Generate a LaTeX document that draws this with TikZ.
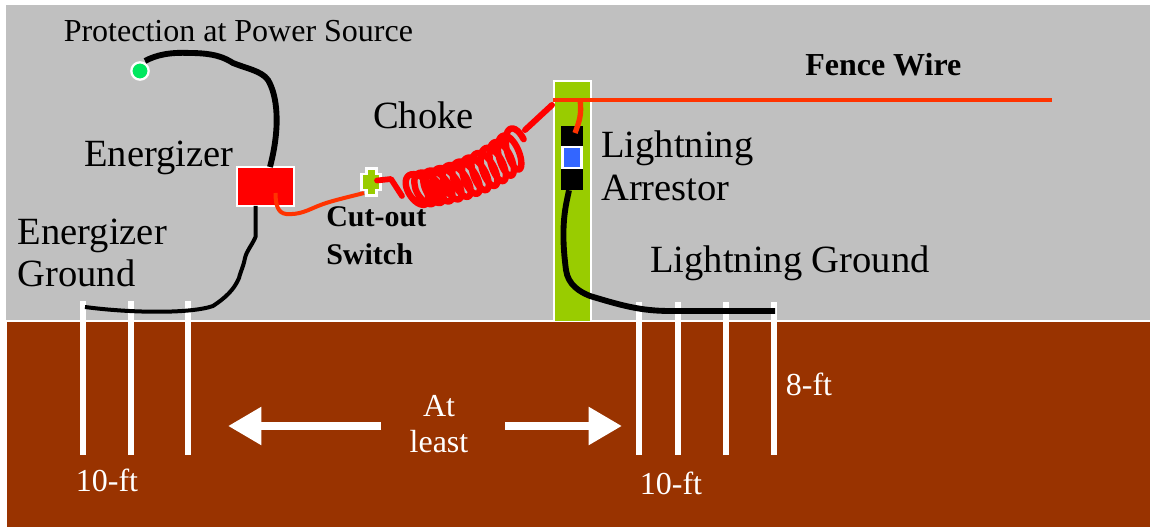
\documentclass[tikz,border=0pt]{standalone}
\usepackage{fontspec}
\setmainfont{Liberation Serif}
\usetikzlibrary{arrows.meta}
\definecolor{skygray}{HTML}{C0C0C0}
\definecolor{soil}{HTML}{993300}
\definecolor{pole}{HTML}{99CC00}
\definecolor{hot}{HTML}{FF3300}
\definecolor{dotgreen}{HTML}{00E85F}
\definecolor{arrestblue}{HTML}{3366FF}
\tikzset{
  x=0.75pt,y=-0.75pt,
  big/.style={font=\fontsize{28.9}{32}\selectfont,inner sep=0pt,align=left,anchor=west,text=black},
  mid/.style={font=\fontsize{24}{29}\selectfont,inner sep=0pt,align=center,text=white},
  lab/.style={font=\fontsize{24}{29}\selectfont\bfseries,inner sep=0pt,align=left,anchor=west,text=black},
  rod/.style={draw=white,line width=4.5pt,line cap=butt},
  blackwire/.style={draw=black,line cap=butt,line join=round},
  hotwire/.style={draw=hot,line width=3pt,line cap=butt,line join=round},
  whitebox/.style={draw=white,line width=1.9pt,inner sep=0pt},
  flow/.style={draw=white,line width=6.2pt,-{Triangle[length=25pt,width=27pt]}},
  coilwire/.style={draw=red,line cap=round,line join=round},
}
\begin{document}
\begin{tikzpicture}
\useasboundingbox (0,0) rectangle (1150,527);
\fill[white] (0,0) rectangle (1150,527);
\fill[skygray] (6,5) rectangle (1150,320);
\fill[soil] (7,322) rectangle (1150,527);
% ground line and pole
\draw[white,line width=1.6pt] (6,321) -- (1150,321);
\fill[pole] (554,81) rectangle (591,321);
\draw[white,line width=2pt] (554,321) -- (554,81) -- (591,81) -- (591,321);
% ground rods
\foreach \n/\xx/\ya in {a/83/301,b/131/301,c/188/301,d/639/302,e/678/302,f/726/302,g/774/302}{
  \coordinate (rod\n top) at (\xx,\ya);
  \coordinate (rod\n bot) at (\xx,455);
  \draw[rod] (rod\n top) -- (rod\n bot);
}
% components
\node[circle,draw=white,line width=1.7pt,fill=dotgreen,minimum size=13pt,inner sep=0pt] (source) at (140,71) {};
\node[whitebox,fill=red,minimum width=43pt,minimum height=29pt] (energizer) at (265.5,186.5) {};
\node[inner sep=0pt,minimum size=0pt] (switch) at (371,182) {};
\fill[white] (360,173) rectangle (382,191);
\fill[white] (364.5,167) rectangle (377.5,197);
\fill[pole] (363,175) rectangle (379,189);
\fill[pole] (367.5,170) rectangle (374.5,194);
\node[fill=black,minimum width=16.5pt,minimum height=18pt,inner sep=0pt] (armtop) at (572,138) {};
\node[fill=black,minimum width=16.5pt,minimum height=18pt,inner sep=0pt] (armbot) at (572,178) {};
\node[whitebox,fill=arrestblue,minimum width=14.5pt,minimum height=15.5pt] (arrest) at (572,157.5) {};
\coordinate (wireend) at (1052,100);
\coordinate (wirestart) at (553,100);
% black wires
\draw[blackwire,line width=4.4pt] (145,61)
  .. controls (156,55) and (170,52) .. (190,53)
  .. controls (215,53) and (225,58) .. (233,63)
  .. controls (245,68) and (262,71) .. (268,80)
  .. controls (277,95) and (281,125) .. (270,167);
\draw[blackwire,line width=3pt] (255.5,206)
  -- (255.5,237)
  .. controls (251,247) and (247,250) .. (245,258)
  .. controls (243,268) and (241,270) .. (239,278)
  .. controls (234,290) and (225,298) .. (213,306)
  .. controls (190,314) and (130,313) .. (85,307);
\draw[blackwire,line width=4.4pt] (armbot.south) ++(-3,0)
  .. controls (566,205) and (560,225) .. (566,270)
  .. controls (568,285) and (580,292) .. (590,296)
  .. controls (620,305) and (640,311) .. (670,311)
  -- (775,311);
% red wires
\draw[hot,line width=3pt,line cap=butt] (275.5,193)
  .. controls (275.5,205) and (278,213) .. (286,214)
  .. controls (300,215) and (308,210) .. (318,206)
  .. controls (330,201) and (345,198) .. (364,193);
\draw[hotwire] (wirestart) -- (wireend);
\draw[hotwire,line width=4pt] (580,100) .. controls (582,115) and (579,122) .. (575,133);
% choke
\draw[coilwire,line width=4.3pt]
  (377,180.5) -- (391,179) -- (402,196);
\draw[coilwire,line width=4.8pt]
  plot[smooth,samples=360,domain=0:1,variable=\s]
  ({(1-\s^1.2)*(1-\s^1.2)*415+2*\s^1.2*(1-\s^1.2)*482+\s^1.2*\s^1.2*518 + (11-3*\s)*cos(\s*4300)+(7-2*\s)*sin(\s*4300)},
   {(1-\s^1.2)*(1-\s^1.2)*190+2*\s^1.2*(1-\s^1.2)*182+\s^1.2*\s^1.2*146 + (15+4*\s)*sin(\s*4300)});
\draw[coilwire,line width=4.5pt] (525,130) -- (552,105);
% text
\node[font=\fontsize{24}{29}\selectfont,inner sep=0pt,anchor=west] (t1) at (63.5,31) {Protection at Power Source};
\node[big] (t2) at (84,158) {Energizer};
\node[big] (t3) at (17.5,253) {Energizer\\Ground};
\node[big] (t4) at (373,115) {Choke};
\node[big] (t5) at (601,166) {Lightning\\Arrestor};
\node[big] (t6) at (650,263) {Lightning Ground};
\node[lab] (t7) at (805,65) {Fence Wire};
\node[lab,anchor=north west,font=\fontsize{22.5}{29}\selectfont\bfseries] (t8) at (326,206) {Cut-out\\Switch};
\node[mid] (t9) at (107,480) {10-ft};
\node[mid] (t10) at (671,483) {10-ft};
\node[mid] (t11) at (809,384) {8-ft};
\node[mid,font=\fontsize{24}{27.5}\selectfont] (t12) at (439,424) {At\\least};
% distance arrows
\coordinate (la) at (381,426);
\coordinate (lb) at (228,426);
\coordinate (ra) at (505,426);
\coordinate (rb) at (622,426);
\draw[flow] (la) -- (lb);
\draw[flow] (ra) -- (rb);
\end{tikzpicture}
\end{document}
